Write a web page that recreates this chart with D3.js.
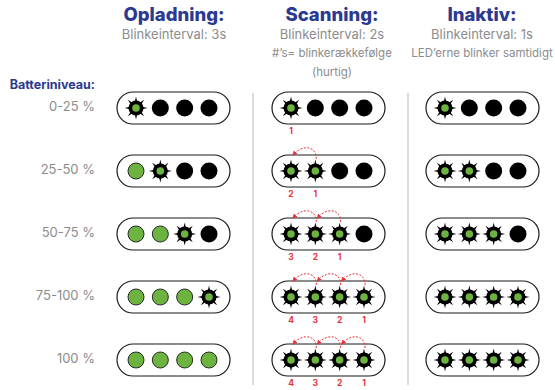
<!DOCTYPE html>
<html><head><meta charset="utf-8">
<script src="https://cdn.jsdelivr.net/npm/d3@7/dist/d3.min.js"></script>
<style>body{margin:0;background:#fff}svg{display:block}</style>
</head><body><svg id="c" width="555" height="390"></svg>
<script>
// ---- data ----
const levels = ["0-25 %", "25-50 %", "50-75 %", "75-100 %", "100 %"];
const modes = ["Opladning:", "Scanning:", "Inaktiv:"];
const subtitles = [
  ["Blinkeinterval: 3s"],
  ["Blinkeinterval: 2s", "#’s= blinkerækkefølge", "(hurtig)"],
  ["Blinkeinterval: 1s", "LED’erne blinker samtidigt"]
];
// LED state per row: 0 = off, 1 = lit, 2 = blinking
const opladning = [[2,0,0,0],[1,2,0,0],[1,1,2,0],[1,1,1,2],[1,1,1,1]];
const scanning  = [[2,0,0,0],[2,2,0,0],[2,2,2,0],[2,2,2,2],[2,2,2,2]];
const inaktiv   = [[2,0,0,0],[2,2,0,0],[2,2,2,0],[2,2,2,2],[2,2,2,2]];
// scanning blink order numbers under each LED (0 = none)
const scanOrder = [[1,0,0,0],[2,1,0,0],[3,2,1,0],[4,3,2,1],[4,3,2,1]];
const ledIndex = [0,1,2,3];

const states = [opladning, scanning, inaktiv];
const svg = d3.select("#c");
const navy = "#2b3990", grey = "#8c8c8c", green = "#6cb33f", red = "#e8333a";
const font = "Inter, 'Open Sans', sans-serif";

const yRow = d3.scalePoint().domain(levels).range([108, 360]);
const colPillLeft = {"Opladning:":117, "Scanning:":272, "Inaktiv:":426};
const titleX = {"Opladning:":174, "Scanning:":332, "Inaktiv:":482};
const xLed = d3.scaleLinear().domain([0, 3]).range([19, 92]);
const pillW = 113, pillH = 32;

svg.append("defs").append("marker").attr("id","ah").attr("viewBox","0 0 10 10")
  .attr("refX",5).attr("refY",5).attr("markerWidth",5).attr("markerHeight",5).attr("orient","auto")
  .append("path").attr("d","M0,0 L10,5 L0,10 z").attr("fill", red);

// titles
const subY = [39, 57, 76];
modes.forEach((m, i) => {
  const cx = titleX[m];
  svg.append("text").attr("x", cx).attr("y", 21).attr("text-anchor","middle")
    .attr("font-family", font).attr("font-weight", 800).attr("font-size", 18.5)
    .attr("fill", navy).text(m);
  subtitles[i].forEach((s, j) => {
    svg.append("text").attr("x", cx).attr("y", subY[j]).attr("text-anchor","middle")
      .attr("font-family", font).attr("font-size", j === 0 ? 13 : 11.5)
      .attr("fill", grey).text(s);
  });
});

svg.append("text").attr("x", 95).attr("y", 89).attr("text-anchor","end")
  .attr("font-family", font).attr("font-weight", 700).attr("font-size", 12.5)
  .attr("fill", navy).text("Batteriniveau:");

levels.forEach(l => {
  svg.append("text").attr("x", 95).attr("y", yRow(l) + 3).attr("text-anchor","end")
    .attr("font-family", font).attr("font-size", 13).attr("fill", grey).text(l);
});

// dividers
[253, 408].forEach(x => svg.append("line").attr("x1",x).attr("x2",x).attr("y1",93).attr("y2",385)
  .attr("stroke","#d0d0d0").attr("stroke-width",1.5));

function drawLed(g, x, y, st) {
  if (st === 0) {
    g.append("circle").attr("cx",x).attr("cy",y).attr("r",8.5).attr("fill","#000");
  } else if (st === 1) {
    g.append("circle").attr("cx",x).attr("cy",y).attr("r",8).attr("fill",green)
      .attr("stroke","#2a2a2a").attr("stroke-width",1);
  } else {
    d3.range(8).forEach(k => {
      const a = k * Math.PI / 4 - Math.PI/2;
      const p = 0.22;
      const r0 = 6, r1 = 11.5;
      g.append("path").attr("d",
        `M${x + r0*Math.cos(a-p)},${y + r0*Math.sin(a-p)} L${x + r1*Math.cos(a)},${y + r1*Math.sin(a)} L${x + r0*Math.cos(a+p)},${y + r0*Math.sin(a+p)} Z`)
        .attr("fill","#000");
    });
    g.append("circle").attr("cx",x).attr("cy",y).attr("r",7.5).attr("fill","#000");
    g.append("circle").attr("cx",x).attr("cy",y).attr("r",3.8).attr("fill",green);
  }
}

modes.forEach((m, ci) => {
  const left = colPillLeft[m];
  levels.forEach((l, ri) => {
    const cy = yRow(l);
    const g = svg.append("g");
    g.append("rect").attr("x", left).attr("y", cy - pillH/2).attr("width", pillW).attr("height", pillH)
      .attr("rx", pillH/2).attr("fill","#fff").attr("stroke","#1a1a1a").attr("stroke-width",1.2);
    ledIndex.forEach(k => drawLed(g, left + xLed(k), cy, states[ci][ri][k]));
    if (ci === 1) {
      ledIndex.forEach(k => {
        const n = scanOrder[ri][k];
        if (!n) return;
        g.append("text").attr("x", left + xLed(k)).attr("y", cy + 26).attr("text-anchor","middle")
          .attr("font-family", font).attr("font-weight", 700).attr("font-size", 8.5)
          .attr("fill", red).text(n);
        if (k > 0) {
          const x0 = left + xLed(k) + 1, y0 = cy - 12;
          const x1 = left + xLed(k-1) + 3, y1 = cy - 17;
          g.append("path").attr("d", `M${x0},${y0} C${x0},${cy-26} ${x1+8},${cy-26} ${x1},${y1}`)
            .attr("fill","none").attr("stroke", red).attr("stroke-width",1)
            .attr("stroke-dasharray","2,1.5").attr("marker-end","url(#ah)");
        }
      });
    }
  });
});
</script></body></html>
